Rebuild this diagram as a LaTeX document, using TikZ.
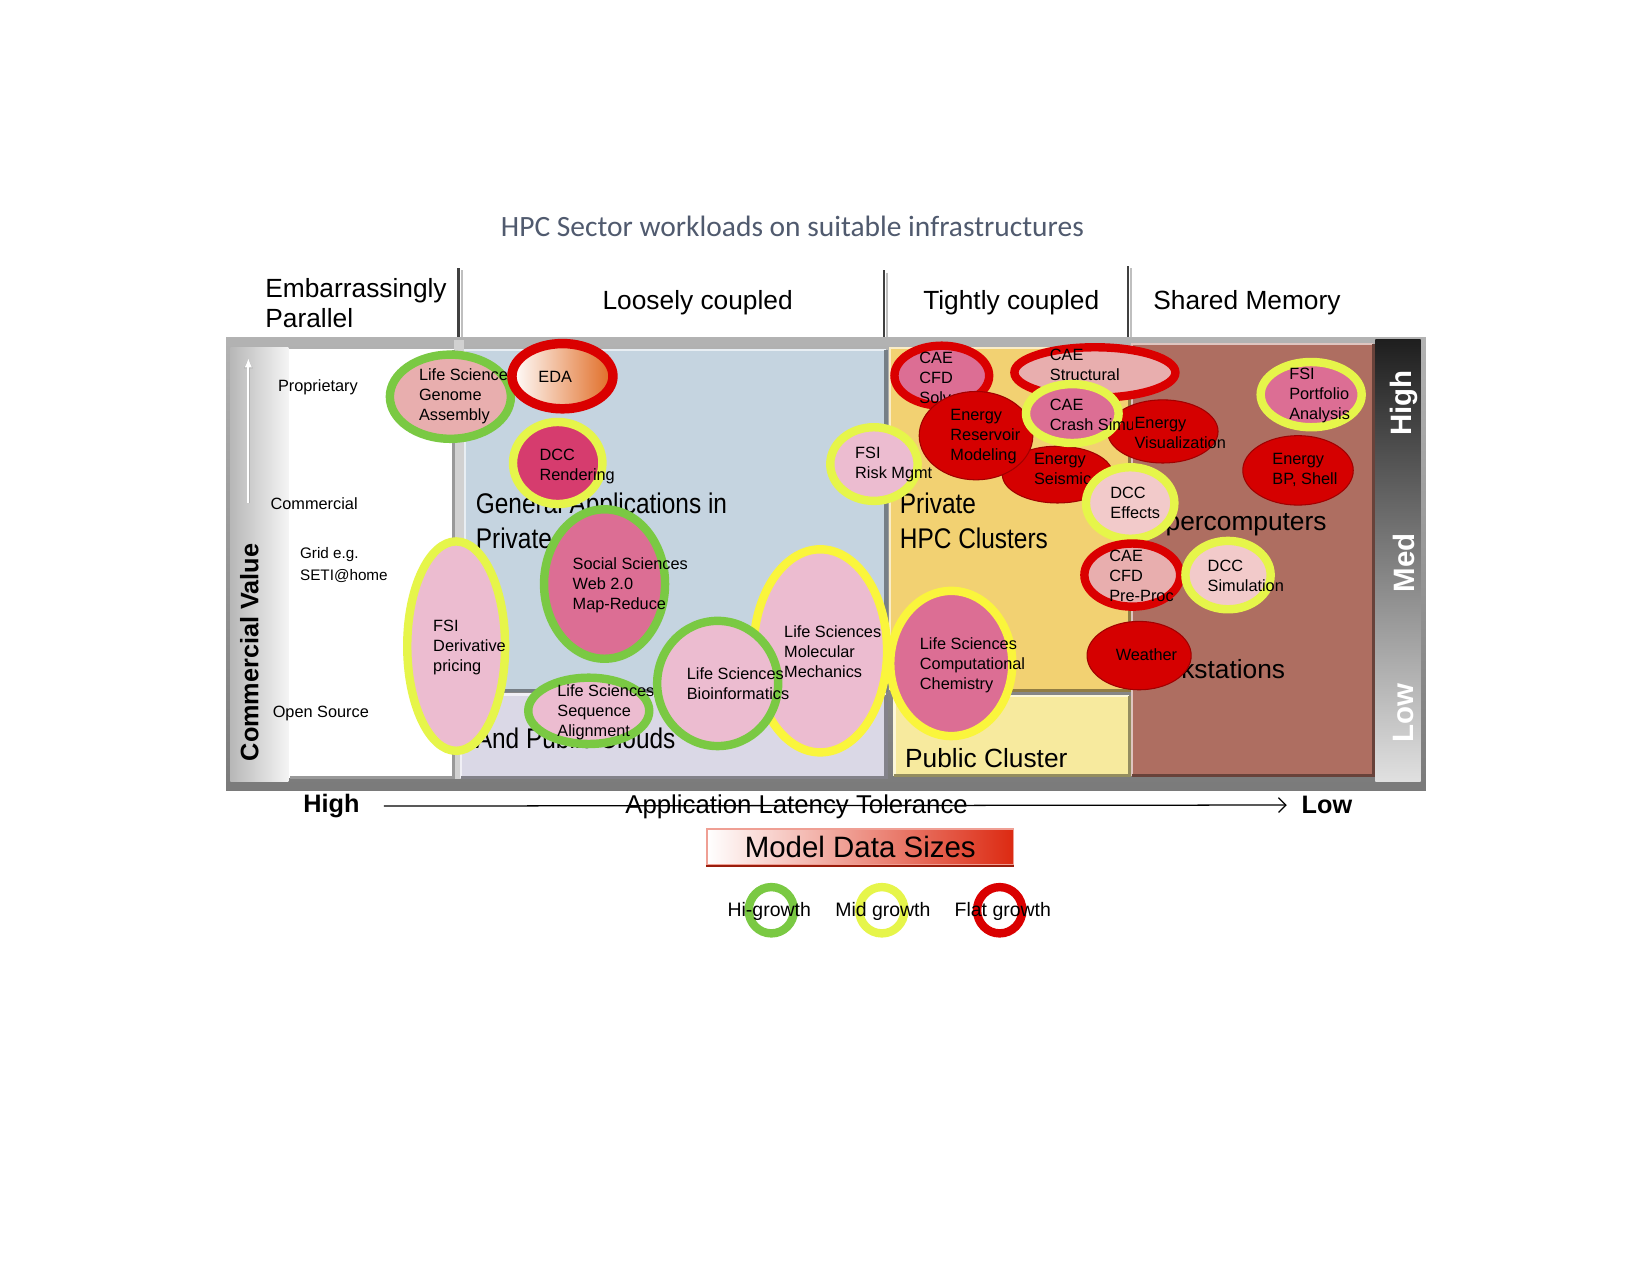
\documentclass[tikz,border=0pt]{standalone}
\usepackage{fontspec}
\setmainfont{Liberation Sans}
\newfontfamily\titlefont{Carlito}
\newfontfamily\narrowfont[FakeStretch=0.86]{Liberation Sans}
\usetikzlibrary{arrows.meta}
\definecolor{titleblue}{HTML}{505A6E}
\definecolor{panelblue}{HTML}{C5D4E0}
\definecolor{panellav}{HTML}{DAD8E6}
\definecolor{panelgold}{HTML}{F2D172}
\definecolor{panelcream}{HTML}{F7EA9E}
\definecolor{panelbrown}{HTML}{AE6E61}
\definecolor{ringgreen}{HTML}{7AC943}
\definecolor{ringlime}{HTML}{E6F54A}
\definecolor{ringyellow}{HTML}{FAF53C}
\definecolor{ringred}{HTML}{DA0000}
\definecolor{pinksalmon}{HTML}{E8AEAE}
\definecolor{pinkdeep}{HTML}{D63C6E}
\definecolor{pinkmid}{HTML}{DC6E94}
\definecolor{pinklight}{HTML}{ECBCD0}
\definecolor{pinkpale}{HTML}{F2CACA}
\definecolor{energyred}{HTML}{D50000}
\definecolor{edaorange}{HTML}{E06A22}
\definecolor{boxred}{HTML}{DC2A12}
\def\bubble[#1](#2)(#3:#4){\draw[#1] (#2) ellipse [x radius=#3, y radius=#4];}
\def\panelbox#1#2#3#4#5{\fill[#1] (#2,#3) rectangle (#4,#5);
	\draw[#1!40!white, line width=2] (#2,#5) -- (#2,#3) -- (#4,#3);
	\draw[#1!60!black, line width=3] (#4,#3) -- (#4,#5) -- (#2,#5);}
\tikzset{
	bubble/.style={line width=8},
	flatred/.style={fill=energyred, draw=energyred!75!black, line width=1},
	bubtext/.style={anchor=west, align=left, inner sep=0pt, font=\fontsize{15.5}{19}\selectfont},
	sidetext/.style={anchor=west, align=left, inner sep=0pt, font=\fontsize{15.5}{21}\selectfont},
	headtext/.style={inner sep=0pt, font=\fontsize{25}{29}\selectfont},
	areatext/.style={anchor=west, align=left, inner sep=0pt, font=\narrowfont\fontsize{27}{34}\selectfont},
	zonetext/.style={anchor=west, inner sep=0pt, font=\fontsize{25}{30}\selectfont},
	ratetext/.style={rotate=90, inner sep=0pt, text=white, font=\bfseries\fontsize{28}{30}\selectfont},
	legtext/.style={inner sep=0pt, font=\fontsize{18.5}{20}\selectfont}
}
\begin{document}
\begin{tikzpicture}[x=1pt, y=-1pt]
			%%%%% START %%%%%
			\useasboundingbox (0,0) rectangle (1568,1212);
			
			\node[inner sep=0pt, text=titleblue, font=\titlefont\fontsize{28}{30}\selectfont] (title) at (753,215) {HPC Sector workloads on suitable infrastructures};
			
			\node[headtext, anchor=west, align=left] (hEmb) at (252,288) {Embarrassingly\\Parallel};
			\node[headtext] (hLoose) at (663,288) {Loosely coupled};
			\node[headtext] (hTight) at (961,288) {Tightly coupled};
			\node[headtext] (hShared) at (1185,288) {Shared Memory};
			
			\draw[black!75, line width=2.5] (436,255) -- (436,323);
			\draw[black!25, line width=1.5] (439,257) -- (439,323);
			\draw[black!75, line width=2.5] (840,257) -- (840,323);
			\draw[black!25, line width=1.5] (843,259) -- (843,323);
			\draw[black!75, line width=2.5] (1072,253) -- (1072,320);
			\draw[black!25, line width=1.5] (1075,255) -- (1075,320);
			
			\shade[top color=black!30, bottom color=black!52] (215,321) rectangle (1355,751);
			\shade[left color=black!28, right color=black!4] (219,330) rectangle (274,743);
			\shade[top color=black!88, bottom color=black!12] (1307,323) rectangle (1350,743);
			\fill[black!18] (431,323) rectangle (441,740);
			\panelbox{white}{276}{333}{431}{739}
			\panelbox{panelblue}{442}{333}{842}{656}
			\panelbox{panellav}{438}{660}{842}{739}
			\panelbox{panelgold}{846}{331}{1073}{656}
			\panelbox{panelcream}{850}{661}{1073}{737}
			\panelbox{panelbrown}{1076}{327}{1305}{737}
			
			\coordinate (cvBase) at (236,478);
			\coordinate (cvTip) at (236,340);
			\draw[black!30, line width=3.5, -{Latex[length=10,width=9]}] (cvBase) -- (cvTip);
			\draw[white, line width=2, -{Latex[length=9,width=7]}] (cvBase) -- (cvTip);
			\node[rotate=90, inner sep=0pt, font=\bfseries\fontsize{24}{26}\selectfont] (cvLabel) at (237,620) {Commercial Value};
			
			\node[ratetext] (rHigh) at (1334,383) {High};
			\node[ratetext] (rMed) at (1334,535) {Med};
			\node[ratetext] (rLow) at (1334,678) {Low};
			
			\node[sidetext] (sProp) at (264,368) {Proprietary};
			\node[sidetext] (sComm) at (257,479) {Commercial};
			\node[sidetext, font=\fontsize{14.5}{21}\selectfont] (sGrid) at (285,537) {Grid e.g.\\SETI@home};
			\node[sidetext] (sOpen) at (259,678) {Open Source};
			
			\node[areatext] (aGeneral) at (452,495) {General Applications in\\Private};
			\node[areatext] (aClouds) at (452,702) {And Public Clouds};
			\node[areatext] (aPrivate) at (855,495) {Private\\HPC Clusters};
			\node[zonetext] (aPublic) at (860,720) {Public Cluster};
			\node[zonetext] (aSuper) at (1077,498) {Supercomputers};
			\node[zonetext] (aWork) at (1077,636) {Workstations};
			
			% bubbles, back to front
			\bubble[fill=pinksalmon, draw=ringgreen, bubble](428,377)(57.5:40);
			\node[bubtext] (tGenome) at (398,377) {Life Science\\Genome\\Assembly};
			
			\bubble[left color=white, right color=edaorange, draw=ringred, line width=9](534.5,357.5)(48:31);
			\node[bubtext] (tEDA) at (511.5,358) {EDA};
			
			\bubble[fill=pinkmid, draw=ringgreen, bubble](574.5,555)(57.5:71);
			\node[bubtext] (tSocial) at (544,556) {Social Sciences\\Web 2.0\\Map-Reduce};
			
			\bubble[fill=pinkdeep, draw=ringlime, bubble](530,440)(42.5:39);
			\node[bubtext] (tRender) at (512.5,443.5) {DCC\\Rendering};
			
			\bubble[fill=pinklight, draw=ringlime, bubble](433.5,614)(46.5:99.5);
			\node[bubtext] (tDeriv) at (411.5,615) {FSI\\Derivative\\pricing};
			
			\bubble[fill=pinklight, draw=ringyellow, bubble](779.5,618.5)(63.5:96.5);
			\node[bubtext] (tMolMech) at (745,619) {Life Sciences\\Molecular\\Mechanics};
			
			\bubble[fill=pinklight, draw=ringgreen, bubble](559.5,675.5)(57.5:31.5);
			\node[bubtext] (tSeqAlign) at (529.5,677) {Life Sciences\\Sequence\\Alignment};
			
			\bubble[fill=pinklight, draw=ringgreen, bubble](682,649.5)(57.5:59.5);
			\node[bubtext] (tBioinf) at (652.5,650) {Life Sciences\\Bioinformatics};
			
			\bubble[fill=pinkmid, draw=ringyellow, bubble](904,630.5)(58:69);
			\node[bubtext] (tCompChem) at (874,632) {Life Sciences\\Computational\\Chemistry};
			
			\bubble[fill=pinkmid, draw=ringred, bubble](895,357)(45:28.5);
			\node[bubtext] (tCfdSolver) at (873.5,359) {CAE\\CFD\\Solver};
			
			\bubble[fill=pinksalmon, draw=ringred, bubble](1040.5,354)(76.5:24);
			\node[bubtext] (tStruct) at (997.5,346.5) {CAE\\Structural};
			
			\bubble[flatred](1005,451)(52.5:27);
			\node[bubtext] (tSeismic) at (982.5,445.5) {Energy\\Seismic};
			
			\bubble[flatred](927.5,414)(54:42);
			\node[bubtext] (tReservoir) at (903,415) {Energy\\Reservoir\\Modeling};
			
			\bubble[fill=pinklight, draw=ringlime, bubble](830.5,441)(41.5:35);
			\node[bubtext] (tRisk) at (812.5,441.5) {FSI\\Risk Mgmt};
			
			\bubble[flatred](1105,410)(52.5:30);
			\node[bubtext] (tEnergyViz) at (1078,411) {Energy\\Visualization};
			\bubble[fill=pinkmid, draw=ringlime, bubble](1019,393)(44:28);
			\begin{scope}
				\clip (960,360) rectangle (1076,420);
				\node[bubtext] (tCrash) at (997.5,394) {CAE\\Crash Simulation};
			\end{scope}
			
			\bubble[fill=pinkpale, draw=ringlime, bubble](1074,478)(42:34);
			\node[bubtext] (tEffects) at (1055,478) {DCC\\Effects};
			
			\bubble[fill=pinkmid, draw=ringlime, bubble](1246,375)(48:31);
			\node[bubtext] (tPortfolio) at (1225,376) {FSI\\Portfolio\\Analysis};
			
			\bubble[flatred](1233.5,447)(52.5:33);
			\node[bubtext] (tShell) at (1209,446.5) {Energy\\BP, Shell};
			
			\bubble[fill=pinksalmon, draw=ringred, bubble](1076,546.5)(45.5:30);
			\node[bubtext] (tPreProc) at (1054,547) {CAE\\CFD\\Pre-Proc};
			
			\bubble[fill=pinkpale, draw=ringlime, bubble](1167,546.5)(40.5:32.5);
			\node[bubtext] (tDccSim) at (1147.5,547.5) {DCC\\Simulation};
			
			\bubble[flatred](1082.5,623)(49.5:32.5);
			\node[bubtext, anchor=center] (tWeather) at (1089.5,622) {Weather};
			
			% latency axis
			\node[inner sep=0pt, font=\bfseries\fontsize{24}{26}\selectfont] (axHigh) at (315,766) {High};
			\node[inner sep=0pt, font=\bfseries\fontsize{24}{26}\selectfont] (axLow) at (1261,765) {Low};
			\node[inner sep=0pt, font=\fontsize{24.5}{26}\selectfont] (axTitle) at (757,767) {Application Latency Tolerance};
			\draw[line width=1.2, -{Straight Barb[length=7,width=14]}, shorten <=23, shorten >=14] (axHigh.east) -- (axLow.west);
			
			\node[minimum width=291, minimum height=34, inner sep=0pt, left color=white, right color=boxred, draw=boxred!45, line width=1.5, font=\fontsize{28}{30}\selectfont] (mds) at (817.5,805) {Model Data Sizes};
			\draw[boxred!70!black, line width=2] (mds.south west) -- (mds.south east);
			
			% legend
			\bubble[fill=white, draw=ringgreen, bubble](733,865)(21.5:22);
			\bubble[fill=white, draw=ringlime, bubble](838,865)(21.5:22);
			\bubble[fill=white, draw=ringred, bubble](950,865)(21.5:22);
			\node[legtext] (lHi) at (731,866) {Hi-growth};
			\node[legtext] (lMid) at (839,866) {Mid growth};
			\node[legtext] (lFlat) at (953,866) {Flat growth};
			
			%%%%% END %%%%%
\end{tikzpicture}
\end{document}
